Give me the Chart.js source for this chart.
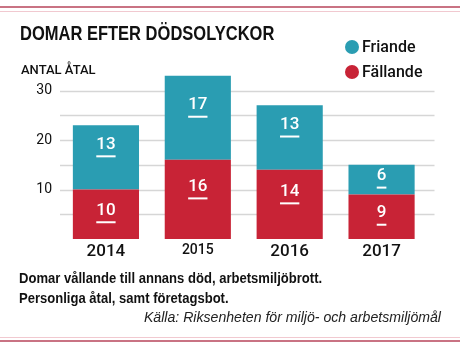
<!DOCTYPE html>
<html><head><meta charset="utf-8">
<script src="https://cdn.jsdelivr.net/npm/chart.js@4/dist/chart.umd.min.js"></script>
<style>
html,body{margin:0;padding:0;background:#fff;}
#wrap{position:relative;width:460px;height:351px;overflow:hidden;background:#fff;}
canvas{position:absolute;left:0;top:0;}
.t{position:absolute;white-space:nowrap;color:#111;}
#title{left:20px;top:22px;font:bold 21px/21px "Liberation Sans",sans-serif;color:#111;transform:scaleX(0.786);transform-origin:0 0;}
#unit{left:21px;top:63px;font:500 13px/13px Roboto,sans-serif;color:#111;}
.lg{left:362px;font:500 16px/16px Roboto,sans-serif;color:#111;}
.dot{position:absolute;width:14px;height:14px;border-radius:50%;}
.note{left:19px;font:bold 15px/15px "Liberation Sans",sans-serif;color:#111;transform:scaleX(0.87);transform-origin:0 0;}
#src{right:19px;top:309px;font:italic 15px/15px "Liberation Sans",sans-serif;color:#222;transform:scaleX(0.94);transform-origin:100% 0;}
.line{position:absolute;left:0;width:460px;}
</style></head>
<body>
<div id="wrap">
<canvas id="c" width="460" height="351"></canvas>
<div class="line" style="top:6px;height:2px;background:#c97383;"></div>
<div class="line" style="top:11px;height:1px;background:#f1c9d0;"></div>
<div class="line" style="top:337px;height:1px;background:#f1c9d0;"></div>
<div class="line" style="top:340px;height:2px;background:#c97383;"></div>
<div class="t" id="title">DOMAR EFTER DÖDSOLYCKOR</div>
<div class="t" id="unit">ANTAL ÅTAL</div>
<div class="dot" style="left:345px;top:40px;background:#2a9db2;"></div>
<div class="t lg" style="top:38.5px;">Friande</div>
<div class="dot" style="left:345px;top:65px;background:#c82336;"></div>
<div class="t lg" style="top:63.5px;">Fällande</div>
<div class="t note" style="top:270px;">Domar vållande till annans död, arbetsmiljöbrott.</div>
<div class="t note" style="top:290px;">Personliga åtal, samt företagsbot.</div>
<div class="t" id="src">Källa: Riksenheten för miljö- och arbetsmiljömål</div>
</div>
<script>
const years = ['2014', '2015', '2016', '2017'];
const fallande = [10, 16, 14, 9];
const friande = [13, 17, 13, 6];
const yTicks = [10, 20, 30];
const gridValues = [5, 10, 15, 20, 25, 30];

const TEAL = '#2a9db2', RED = '#c82336';

const gridPlugin = {
  id: 'grid',
  beforeDatasetsDraw(chart) {
    const ctx = chart.ctx, y = chart.scales.y;
    ctx.save();
    ctx.strokeStyle = '#d6d6d6';
    ctx.lineWidth = 1.5;
    gridValues.forEach(v => {
      const py = Math.round(y.getPixelForValue(v)) + 0.5;
      ctx.beginPath();
      ctx.moveTo(chart.chartArea.left, py);
      ctx.lineTo(chart.chartArea.right + 7, py);
      ctx.stroke();
    });
    ctx.restore();
  }
};

const labelPlugin = {
  id: 'vals',
  afterDatasetsDraw(chart) {
    const ctx = chart.ctx;
    ctx.save();
    ctx.font = '500 17px Roboto, sans-serif';
    ctx.fillStyle = '#fff';
    ctx.textAlign = 'center';
    ctx.textBaseline = 'middle';
    chart.data.datasets.forEach((ds, di) => {
      const meta = chart.getDatasetMeta(di);
      meta.data.forEach((el, i) => {
        const p = el.getProps(['x', 'y', 'base'], true);
        const top = Math.min(p.y, p.base), bot = Math.max(p.y, p.base);
        const h = bot - top;
        const off = h > 55 ? -9 : 0;
        const mid = (top + bot) / 2 + off - 4;
        const txt = String(ds.data[i]);
        ctx.fillText(txt, p.x, mid);
        const w = ctx.measureText(txt).width;
        ctx.fillRect(p.x - w / 2, mid + 11, w, 2);
      });
    });
    ctx.restore();
  }
};

new Chart(document.getElementById('c'), {
  type: 'bar',
  data: {
    labels: years,
    datasets: [
      { label: 'Fällande', data: fallande, backgroundColor: RED, borderWidth: 0 },
      { label: 'Friande', data: friande, backgroundColor: TEAL, borderWidth: 0 }
    ]
  },
  options: {
    responsive: false,
    devicePixelRatio: 1,
    animation: false,
    layout: { padding: { top: 65.75, right: 32.5, bottom: 82, left: 0 } },
    datasets: { bar: { barPercentage: 0.72, categoryPercentage: 1 } },
    plugins: { legend: { display: false }, tooltip: { enabled: false } },
    scales: {
      x: {
        stacked: true,
        grid: { display: false, drawTicks: false },
        border: { display: false },
        afterFit(s) { s.height = 30; },
        ticks: {
          padding: 3,
          color: '#111',
          font: (c) => c.index === 1
            ? { family: 'Roboto, sans-serif', size: 14, weight: '500' }
            : { family: 'Roboto, sans-serif', size: 17, weight: '500' }
        }
      },
      y: {
        stacked: true,
        min: 0, max: 35,
        grid: { display: false, drawTicks: false },
        border: { display: false },
        afterFit(s) { s.width = 60; },
        afterBuildTicks(s) { s.ticks = yTicks.map(v => ({ value: v })); },
        ticks: {
          padding: 8,
          color: '#111',
          font: { family: 'Roboto, sans-serif', size: 14, weight: '400' }
        }
      }
    }
  },
  plugins: [gridPlugin, labelPlugin]
});
</script>
</body></html>
